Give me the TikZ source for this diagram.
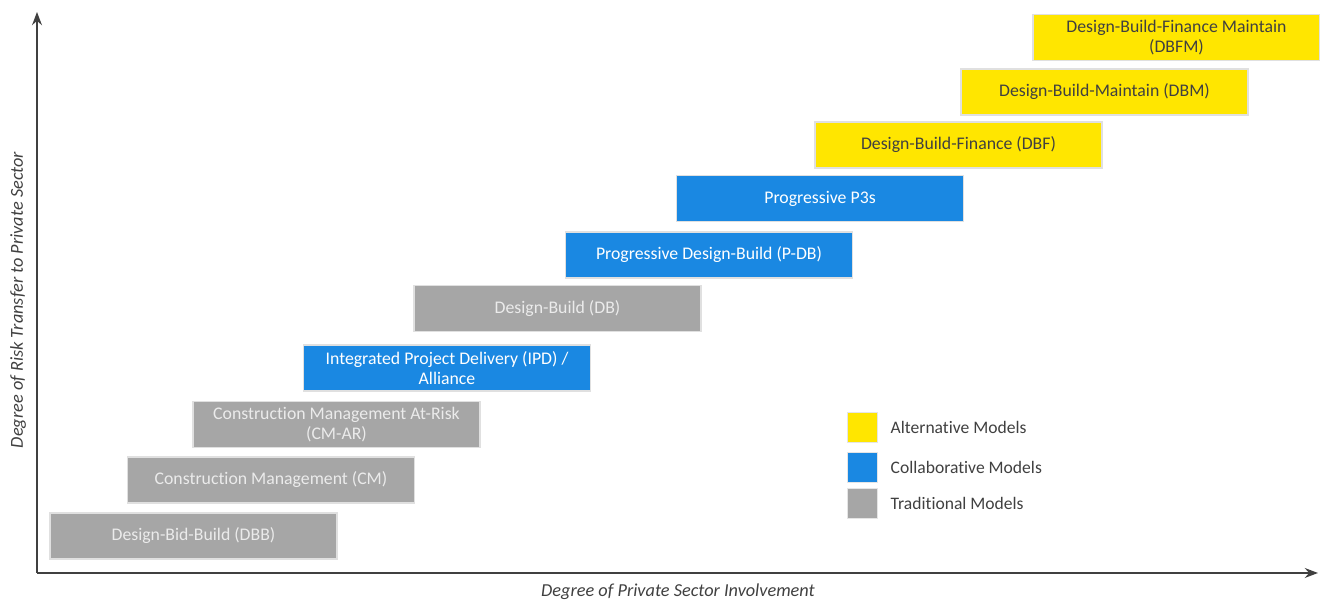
\documentclass[tikz,border=0pt]{standalone}
\usepackage{fontspec}
\setmainfont{Carlito}[Ligatures=NoCommon]
\usetikzlibrary{arrows.meta,positioning}
\definecolor{eyyellow}{RGB}{255,230,0}
\definecolor{eyblue}{RGB}{26,136,226}
\definecolor{eygrey}{RGB}{166,166,166}
\definecolor{axisgrey}{RGB}{64,64,64}

\begin{document}
\begin{tikzpicture}[>=Stealth,
    model/.style={draw=black!12,line width=0.6pt,minimum width=5.74cm,
                  minimum height=0.92cm,align=center,inner sep=2pt,
                  font=\fontsize{10.1}{11}\selectfont},
    tradbox/.style={model,fill=eygrey,text=white!92!black},
    collbox/.style={model,fill=eyblue,text=white},
    altbox/.style={model,fill=eyyellow,text=axisgrey},
    keybox/.style={minimum size=0.6cm,inner sep=0pt,draw=black!10},
    keytext/.style={right=0.26cm,inner sep=0pt,text=axisgrey,
                    font=\fontsize{10}{12}\selectfont}]
  \useasboundingbox (0,0) rectangle (26.4,12.02);
  % axes
  \coordinate (O) at (0.74,0.56);
  \coordinate (Ytop) at (0.74,11.78);
  \coordinate (Xend) at (26.36,0.56);
  \draw[->,axisgrey,line width=1pt] (O) -- (Ytop);
  \draw[->,axisgrey,line width=1pt] (O) -- (Xend);
  \node[rotate=90,text=axisgrey,font=\fontsize{10.4}{12}\selectfont\itshape]
       (ylab) at (0.36,6.02) {Degree of Risk Transfer to Private Sector};
  \node[text=axisgrey,font=\fontsize{10.4}{12}\selectfont\itshape]
       (xlab) at (13.56,0.18) {Degree of Private Sector Involvement};
  % delivery models, bottom left to top right
  \node[tradbox] (dbb)  at (3.87,1.30)  {Design-Bid-Build (DBB)};
  \node[tradbox] (cm)   at (5.42,2.42)  {Construction Management (CM)};
  \node[tradbox] (cmar) at (6.73,3.53)  {Construction Management At-Risk\\ (CM-AR)};
  \node[collbox] (ipd)  at (8.94,4.66)  {Integrated Project Delivery (IPD) /\\ Alliance};
  \node[tradbox] (db)   at (11.15,5.85) {Design-Build (DB)};
  \node[collbox] (pdb)  at (14.18,6.92) {Progressive Design-Build (P-DB)};
  \node[collbox] (ppp)  at (16.40,8.05) {Progressive P3s};
  \node[altbox]  (dbf)  at (19.17,9.12) {Design-Build-Finance (DBF)};
  \node[altbox]  (dbm)  at (22.09,10.18) {Design-Build-Maintain (DBM)};
  \node[altbox]  (dbfm) at (23.53,11.27) {Design-Build-Finance Maintain\\ (DBFM)};
  % legend
  \node[keybox,fill=eyyellow] (kalt)  at (17.24,3.48) {};
  \node[keybox,fill=eyblue]   (kcoll) at (17.24,2.68) {};
  \node[keybox,fill=eygrey]   (ktrad) at (17.24,1.96) {};
  \node[keytext] at (kalt.east)  {Alternative Models};
  \node[keytext] at (kcoll.east) {Collaborative Models};
  \node[keytext] at (ktrad.east) {Traditional Models};
\end{tikzpicture}
\end{document}
